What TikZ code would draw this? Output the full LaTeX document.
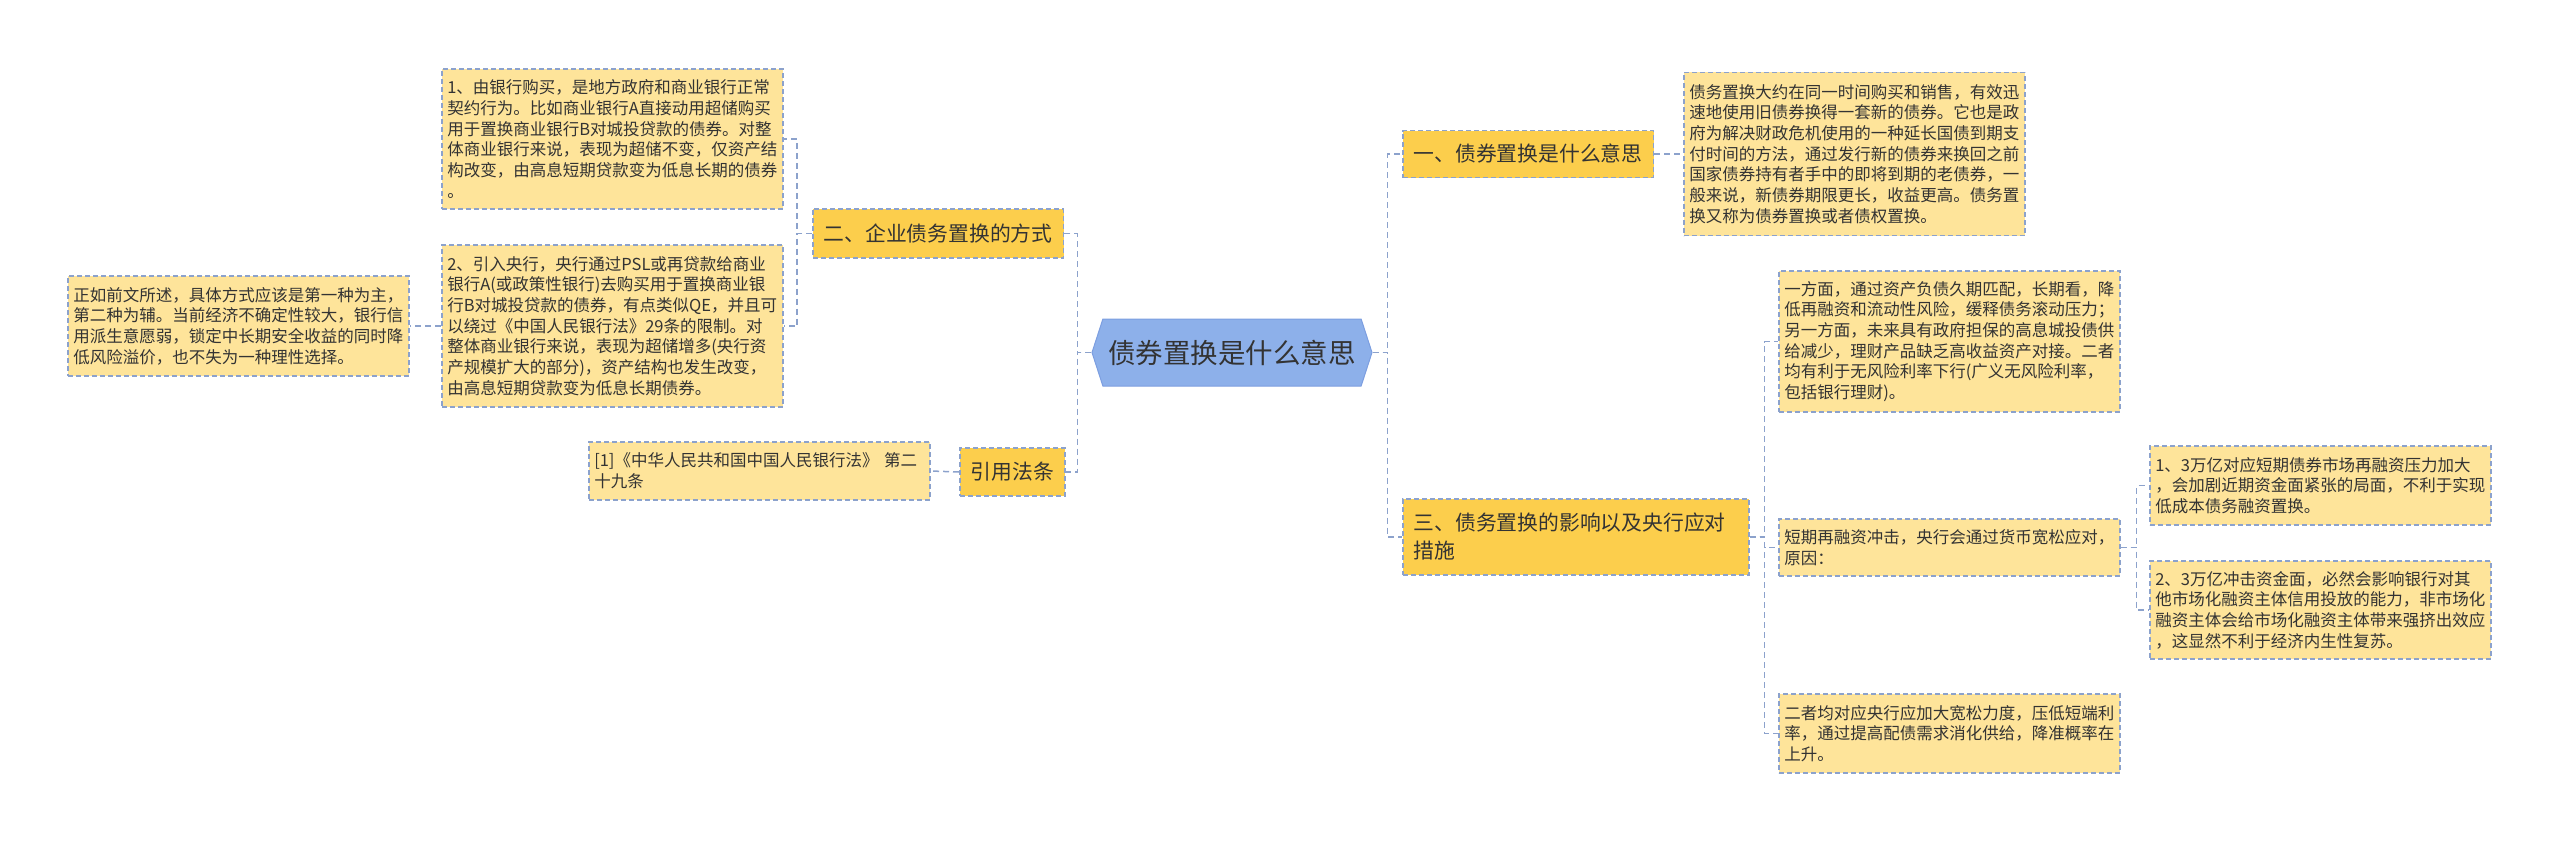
\documentclass[tikz,border=0pt]{standalone}
\usepackage{fontspec}
\setmainfont{Noto Sans CJK SC}
\usepackage{tikz}
\usetikzlibrary{positioning, shapes.symbols}
\usepackage{xcolor}
\definecolor{mapaCentro}{HTML}{8DB0EA}
\definecolor{mapaCentroBorde}{HTML}{7C9EE0}
\definecolor{mapaTema}{HTML}{FCCE4C}
\definecolor{mapaNota}{HTML}{FEE49A}
\definecolor{mapaLinea}{HTML}{8CA2CC}
\definecolor{mapaTexto}{HTML}{333333}

\begin{document}
\begin{tikzpicture}[x=1pt, y=-1pt,
    tema/.style={draw=mapaLinea, fill=mapaTema, line width=1.5pt, dash pattern=on 5pt off 3pt,
      text=mapaTexto, font=\fontsize{20.8}{28}\selectfont, inner xsep=11pt, inner ysep=0pt,
      anchor=west, align=left},
    nota/.style={draw=mapaLinea, fill=mapaNota, line width=1.5pt, dash pattern=on 5pt off 3pt,
      text=mapaTexto, font=\fontsize{16.5}{20.7}\selectfont, text width=330pt, inner xsep=5.5pt,
      inner ysep=0pt, anchor=west, align=left},
    enlace/.style={draw=mapaLinea, line width=1.5pt, dash pattern=on 6pt off 4pt}]
  % Marco: mismo tamano que la imagen (1pt = 1px)
  \useasboundingbox (0,0) rectangle (2560,843);

  % Nodo central
  \node[signal, signal to=west and east, signal pointer angle=144, draw=mapaCentroBorde,
    fill=mapaCentro, line width=1pt, minimum width=280pt, minimum height=67pt, inner sep=0pt,
    font=\fontsize{27.5}{30}\selectfont, text=mapaTexto] (centro) at (1232,352.5) {债券置换是什么意思};

  % Rama izquierda
  \node[tema, minimum height=49pt] (fangshi) at (812,233.5) {二、企业债务置换的方式};
  \node[tema, minimum height=48pt] (fatiao) at (959,472) {引用法条};
  \node[nota, minimum height=140pt] (yinhang) at (441,139) {1、由银行购买，是地方政府和商业银行正常\\
    契约行为。比如商业银行A直接动用超储购买\\用于置换商业银行B对城投贷款的债券。对整\\
    体商业银行来说，表现为超储不变，仅资产结\\构改变，由高息短期贷款变为低息长期的债券\\。};
  \node[nota, minimum height=162pt] (yanghang) at (441,326) {2、引入央行，央行通过PSL或再贷款给商业\\
    银行A(或政策性银行)去购买用于置换商业银\\行B对城投贷款的债券，有点类似QE，并且可\\
    以绕过《中国人民银行法》29条的限制。对\\整体商业银行来说，表现为超储增多(央行资\\
    产规模扩大的部分)，资产结构也发生改变，\\由高息短期贷款变为低息长期债券。};
  \node[nota, minimum height=100pt] (zhengru) at (67,326) {正如前文所述，具体方式应该是第一种为主，\\
    第二种为辅。当前经济不确定性较大，银行信\\用派生意愿弱，锁定中长期安全收益的同时降\\
    低风险溢价，也不失为一种理性选择。};
  \node[nota, minimum height=58pt] (falv) at (588,471) {[1]《中华人民共和国中国人民银行法》 第二\\十九条};

  % Rama derecha
  \node[tema, minimum height=47pt] (yisi) at (1402,154) {一、债券置换是什么意思};
  \node[nota, minimum height=163pt] (dingyi) at (1683,154) {债务置换大约在同一时间购买和销售，有效迅\\
    速地使用旧债券换得一套新的债券。它也是政\\府为解决财政危机使用的一种延长国债到期支\\
    付时间的方法，通过发行新的债券来换回之前\\国家债券持有者手中的即将到期的老债券，一\\
    般来说，新债券期限更长，收益更高。债务置\\换又称为债券置换或者债权置换。};
  \node[tema, minimum height=76pt, text width=324pt] (yingxiang) at (1402,537) {三、债务置换的影响以及央行应对\\措施};
  \node[nota, minimum height=141pt] (fangmian) at (1778,341.5) {一方面，通过资产负债久期匹配，长期看，降\\
    低再融资和流动性风险，缓释债务滚动压力；\\另一方面，未来具有政府担保的高息城投债供\\
    给减少，理财产品缺乏高收益资产对接。二者\\均有利于无风险利率下行(广义无风险利率，\\
    包括银行理财)。};
  \node[nota, minimum height=57pt] (duanqi) at (1778,547.5) {短期再融资冲击，央行会通过货币宽松应对，\\原因：};
  \node[nota, minimum height=79pt] (erzhe) at (1778,733.5) {二者均对应央行应加大宽松力度，压低短端利\\
    率，通过提高配债需求消化供给，降准概率在\\上升。};
  \node[nota, minimum height=79pt] (wanyiA) at (2149,485.5) {1、3万亿对应短期债券市场再融资压力加大\\
    ，会加剧近期资金面紧张的局面，不利于实现\\低成本债务融资置换。};
  \node[nota, minimum height=98pt] (wanyiB) at (2149,610) {2、3万亿冲击资金面，必然会影响银行对其\\
    他市场化融资主体信用投放的能力，非市场化\\融资主体会给市场化融资主体带来强挤出效应\\
    ，这显然不利于经济内生性复苏。};

  % Conectores
  \draw[enlace] (centro.west) -- ++(-14,0) |- (fangshi.east);
  \draw[enlace] (centro.west) -- ++(-14,0) |- (fatiao.east);
  \draw[enlace] (fangshi.west) -- ++(-15,0) |- (yinhang.east);
  \draw[enlace] (fangshi.west) -- ++(-15,0) |- (yanghang.east);
  \draw[enlace] (yanghang.west) -- (zhengru.east);
  \draw[enlace] (fatiao.west) -- (falv.east);
  \draw[enlace] (centro.east) -- ++(15,0) |- (yisi.west);
  \draw[enlace] (centro.east) -- ++(15,0) |- (yingxiang.west);
  \draw[enlace] (yisi.east) -- (dingyi.west);
  \draw[enlace] (yingxiang.east) -- ++(15,0) |- (fangmian.west);
  \draw[enlace] (yingxiang.east) -- ++(15,0) |- (duanqi.west);
  \draw[enlace] (yingxiang.east) -- ++(15,0) |- (erzhe.west);
  \draw[enlace] (duanqi.east) -- ++(16,0) |- (wanyiA.west);
  \draw[enlace] (duanqi.east) -- ++(16,0) |- (wanyiB.west);
\end{tikzpicture}
\end{document}
